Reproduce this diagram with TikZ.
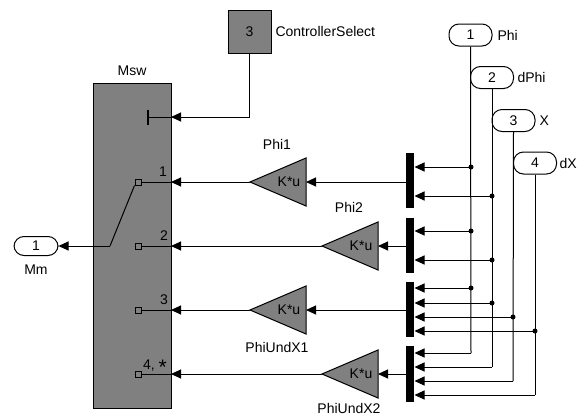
\documentclass[tikz,border=0pt]{standalone}
\usepackage{fontspec}
\setmainfont{Liberation Sans}
\usetikzlibrary{arrows.meta}
\definecolor{blkgray}{RGB}{128,128,128}
\begin{document}
\begin{tikzpicture}[x=1pt,y=-1pt, line width=1pt, font=\fontsize{14}{16}\selectfont,
  gbox/.style={draw=black, fill=blkgray, line width=1pt, inner sep=0pt},
  port/.style={draw, rounded corners=10pt, minimum width=43pt, minimum height=22pt, inner sep=0pt, fill=white},
  mux/.style={fill=black, minimum width=8pt, inner sep=0pt},
  sig/.style={-{Triangle[length=10pt,width=9pt]}},
  jdot/.style={circle, fill=black, inner sep=0pt, minimum size=5pt},
  lbl/.style={inner sep=0pt},
  psq/.style={draw, minimum size=6pt, inner sep=0pt, line width=1pt}]
\useasboundingbox (0,0) rectangle (579,416);

% Msw block
\node[gbox, minimum width=78pt, minimum height=325pt] (msw) at (132,245.5) {};
\node[lbl] (mswlbl) at (132,71) {Msw};
\node[lbl] (n1) at (163,172) {1};
\node[lbl] (n2) at (164,236) {2};
\node[lbl] (n3) at (164,300) {3};
\node[lbl, anchor=base] (n4) at (155,369) {4, \raisebox{-5pt}{\fontsize{21}{21}\selectfont *}};
\node[psq] (s1) at (138,182) {};
\node[psq] (s2) at (138,246) {};
\node[psq] (s3) at (138,310) {};
\node[psq] (s4) at (138,374) {};
\coordinate (e0) at (171,117);
\coordinate (e1) at (171,182);
\coordinate (e2) at (171,246);
\coordinate (e3) at (171,310);
\coordinate (e4) at (171,374);
\draw (s1.east) -- (e1);
\draw (s2.east) -- (e2);
\draw (s3.east) -- (e3);
\draw (s4.east) -- (e4);
\coordinate (tb) at (148,117);
\draw (e0) -- (tb);
\draw[line width=2pt] (148,110) -- (148,125);
\coordinate (sw) at (110,246);
\draw (s1.south west) -- (sw);

% Outport
\node[port, minimum width=44pt, minimum height=19pt] (mm) at (36,246) {1};
\node[lbl] (mmlbl) at (36,270) {Mm};
\draw[sig] (sw) -- (mm.east);

% Controller select
\node[gbox, minimum width=43pt, minimum height=43pt] (cs) at (249.5,31.5) {3};
\node[lbl, anchor=west] (cslbl) at (275,31) {ControllerSelect};
\draw[sig] (cs.south) |- (e0);

% Inports
\node[port] (in1) at (470.5,35) {1};
\node[lbl, anchor=west] (in1l) at (497,35) {Phi};
\node[port] (in2) at (492,77.5) {2};
\node[lbl, anchor=west] (in2l) at (517,77.5) {dPhi};
\node[port] (in3) at (513.5,120.5) {3};
\node[lbl, anchor=west] (in3l) at (539,120.5) {X};
\node[port] (in4) at (535,163) {4};
\node[lbl, anchor=west] (in4l) at (559,163) {dX};

% Gains
\coordinate (g1) at (250,182);
\coordinate (g2) at (322,246);
\coordinate (g3) at (250,310);
\coordinate (g4) at (322,374);
\foreach \g in {g1,g2,g3,g4}{
  \draw[gbox] (\g) -- ++(56,-24) -- ++(0,48) -- cycle;
}
\coordinate (g1b) at (306,182);
\coordinate (g2b) at (378,246);
\coordinate (g3b) at (306,310);
\coordinate (g4b) at (378,374);
\node[lbl] (k1) at (289,182) {K*u};
\node[lbl] (k2) at (361,246) {K*u};
\node[lbl] (k3) at (289,310) {K*u};
\node[lbl] (k4) at (361,374) {K*u};
\node[lbl] (gl1) at (277,144) {Phi1};
\node[lbl] (gl2) at (349,207) {Phi2};
\node[lbl] (gl3) at (277,347) {PhiUndX1};
\node[lbl] (gl4) at (349,408) {PhiUndX2};
\draw[sig] (g1) -- (e1);
\draw[sig] (g2) -- (e2);
\draw[sig] (g3) -- (e3);
\draw[sig] (g4) -- (e4);

% Muxes
\node[mux, minimum height=55pt] (m1) at (410,180.5) {};
\node[mux, minimum height=55pt] (m2) at (410,245.5) {};
\node[mux, minimum height=55pt] (m3) at (410,309.5) {};
\node[mux, minimum height=56pt] (m4) at (410,374) {};
\draw[sig] (m1.west |- g1b) -- (g1b);
\draw[sig] (m2.west |- g2b) -- (g2b);
\draw[sig] (m3.west |- g3b) -- (g3b);
\draw[sig] (m4.west |- g4b) -- (g4b);

% Signal buses
\coordinate (pA) at (471,353);
\coordinate (pB) at (492,367);
\coordinate (pC) at (513,381);
\coordinate (pD) at (535,395);
\draw (in1.south) -- (pA);
\draw (in2.south) -- (pB);
\draw (in3.south) -- (pC);
\draw (in4.south) -- (pD);
\draw[sig] (pA) -- (m4.east |- pA);
\draw[sig] (pB) -- (m4.east |- pB);
\draw[sig] (pC) -- (m4.east |- pC);
\draw[sig] (pD) -- (m4.east |- pD);

% branches
\foreach \x/\y/\m/\n in {471/167/m1/a1, 492/196/m1/a2, 471/231/m2/b1, 492/260/m2/b2,
                          471/288/m3/c1, 492/303/m3/c2, 513/317/m3/c3, 535/331/m3/c4}{
  \node[jdot] (\n) at (\x,\y) {};
  \draw[sig] (\n.center) -- (\m.east |- \n.center);
}
\end{tikzpicture}
\end{document}
